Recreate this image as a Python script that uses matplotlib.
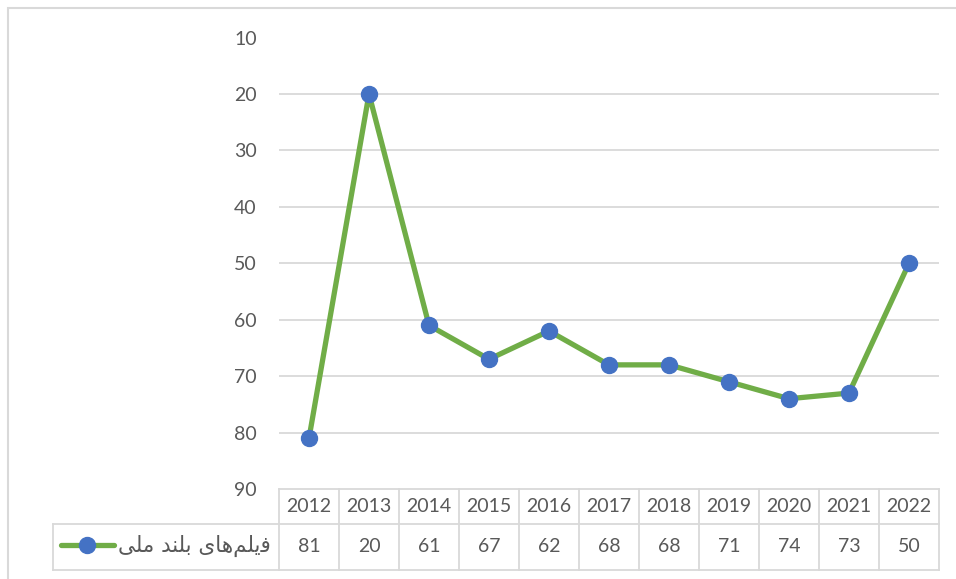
import matplotlib
matplotlib.use("Agg")
import matplotlib.pyplot as plt
import matplotlib.transforms as mtransforms
from matplotlib.lines import Line2D
from matplotlib.patches import Rectangle

years = ["2012", "2013", "2014", "2015", "2016", "2017", "2018", "2019", "2020", "2021", "2022"]
values = [81, 20, 61, 67, 62, 68, 68, 71, 74, 73, 50]
y_ticks = [10, 20, 30, 40, 50, 60, 70, 80, 90]
# "فیلم‌های بلند ملی" shaped with presentation forms, in visual (left-to-right) order
series_name = ("\uFBFD\uFEE0\uFEE3" + " " +
               "\uFEAA\uFEE8\uFEE0\uFE91" + " " +
               "\uFBFC\uFE8E\uFEEB\uFEE2\uFEE0\uFBFE\uFED3")

W, H = 956, 579
GRID = "#d9d9d9"
TXT = "#595959"
GREEN = "#70AD47"
BLUE = "#4472C4"

plt.rcParams["font.family"] = ["Lato", "DejaVu Sans"]

fig = plt.figure(figsize=(W / 100, H / 100), dpi=100)

# plot area in pixels (from top-left)
x0, x1 = 279, 939
ytop, ybot = 37.6, 489
ax = fig.add_axes([x0 / W, 1 - ybot / H, (x1 - x0) / W, (ybot - ytop) / H])

xs = list(range(len(years)))
ax.plot(xs, values, color=GREEN, linewidth=3.8, marker="o", markersize=11.5,
        markerfacecolor=BLUE, markeredgecolor=BLUE, solid_capstyle="round", zorder=3)

ax.set_xlim(-0.5, len(years) - 0.5)
ax.set_ylim(90, 10)
ax.set_yticks(y_ticks)
ax.set_xticks([])
ax.tick_params(axis="y", length=0, pad=16, labelsize=14, labelcolor=TXT)
for s in ax.spines.values():
    s.set_visible(False)
for y in y_ticks[1:-1]:
    ax.axhline(y, color=GRID, linewidth=1.3, zorder=1)


def fy(py):
    return 1 - py / H


def fx(px):
    return px / W


# data table below the plot
trans = mtransforms.blended_transform_factory(ax.transData, fig.transFigure)
r0, r1, r2 = 489, 524, 570
lw = 1.3
fig.add_artist(Line2D([fx(x0), fx(x1)], [fy(r0), fy(r0)], color=GRID, lw=lw))
fig.add_artist(Line2D([fx(53), fx(x1)], [fy(r1), fy(r1)], color=GRID, lw=lw))
fig.add_artist(Line2D([fx(53), fx(x1)], [fy(r2), fy(r2)], color=GRID, lw=lw))
fig.add_artist(Line2D([fx(53), fx(53)], [fy(r1), fy(r2)], color=GRID, lw=lw))
for i in range(len(years) + 1):
    fig.add_artist(Line2D([i - 0.5, i - 0.5], [fy(r0), fy(r2)], color=GRID, lw=lw,
                          transform=trans))
for i, (yr, v) in enumerate(zip(years, values)):
    fig.text(i, fy((r0 + r1) / 2), yr, transform=trans, ha="center", va="center",
             fontsize=14, color=TXT)
    fig.text(i, fy((r1 + r2) / 2), str(v), transform=trans, ha="center", va="center",
             fontsize=14, color=TXT)

# legend key inside the table
ly = fy(545)
fig.add_artist(Line2D([fx(61), fx(114)], [ly, ly], color=GREEN, lw=3.8,
                      solid_capstyle="round"))
fig.add_artist(Line2D([fx(87)], [ly], marker="o", markersize=11.5,
                      markerfacecolor=BLUE, markeredgecolor=BLUE))
fig.text(fx(271), fy(546), series_name, ha="right", va="center", fontsize=15.5,
         color=TXT, family=["DejaVu Sans"])

# chart border
fig.add_artist(Rectangle((fx(7.5), fy(600)), fx(1000), fy(8) - fy(600),
                         transform=fig.transFigure, fill=False, edgecolor=GRID, lw=1.5))

fig.savefig("out.png", dpi=100)
